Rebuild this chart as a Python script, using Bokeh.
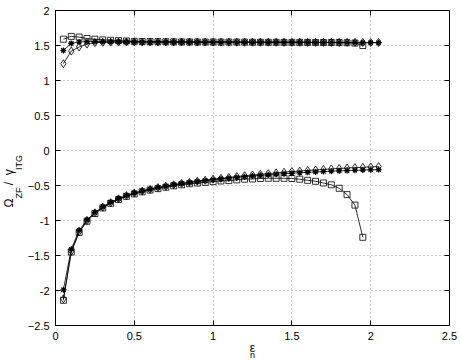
import numpy as np
from bokeh.plotting import figure
from bokeh.models import LinearAxis, Range1d, FixedTicker, CustomJSTickFormatter, Title
from bokeh.embed import file_html
from bokeh.resources import INLINE

# ---------------- data ----------------
x_sq = [round(0.05 * i, 2) for i in range(1, 40)]   # 0.05 .. 1.95
x_dm = [round(0.05 * i, 2) for i in range(1, 42)]   # 0.05 .. 2.05

up_sq = [1.59, 1.63, 1.62, 1.60, 1.59, 1.58, 1.575, 1.57, 1.565, 1.56,
         1.558, 1.556, 1.555, 1.554, 1.553, 1.552, 1.551, 1.55, 1.55, 1.55,
         1.549, 1.549, 1.548, 1.548, 1.547, 1.547, 1.546, 1.546, 1.545, 1.545,
         1.545, 1.544, 1.544, 1.543, 1.543, 1.542, 1.54, 1.535, 1.50]
up_st = [1.43, 1.53, 1.55, 1.555, 1.555, 1.554, 1.553, 1.553, 1.552, 1.552,
         1.551, 1.551, 1.55, 1.55, 1.55, 1.549, 1.549, 1.548, 1.548, 1.548,
         1.547, 1.547, 1.547, 1.546, 1.546, 1.546, 1.545, 1.545, 1.545, 1.544,
         1.544, 1.544, 1.543, 1.543, 1.543, 1.542, 1.542, 1.542, 1.541, 1.541, 1.54]
up_dm = [1.24, 1.42, 1.48, 1.52, 1.54, 1.545, 1.548, 1.55, 1.55, 1.55,
         1.55, 1.55, 1.55, 1.55, 1.55, 1.549, 1.549, 1.549, 1.549, 1.548,
         1.548, 1.548, 1.548, 1.547, 1.547, 1.547, 1.547, 1.546, 1.546, 1.546,
         1.546, 1.545, 1.545, 1.545, 1.545, 1.544, 1.544, 1.544, 1.544, 1.543, 1.543]

lo_sq = [-2.14, -1.45, -1.17, -1.01, -0.90, -0.82, -0.755, -0.70, -0.655, -0.62,
         -0.59, -0.565, -0.545, -0.525, -0.505, -0.49, -0.475, -0.465, -0.455, -0.445,
         -0.435, -0.43, -0.42, -0.41, -0.407, -0.40, -0.397, -0.397, -0.397, -0.40,
         -0.41, -0.426, -0.44, -0.464, -0.49, -0.54, -0.63, -0.78, -1.24]
lo_st = [-1.99, -1.41, -1.14, -0.99, -0.885, -0.805, -0.74, -0.688, -0.644, -0.607,
         -0.578, -0.553, -0.53, -0.51, -0.49, -0.472, -0.458, -0.444, -0.431, -0.418,
         -0.406, -0.395, -0.384, -0.374, -0.364, -0.355, -0.347, -0.339, -0.332, -0.325,
         -0.318, -0.312, -0.306, -0.301, -0.296, -0.291, -0.287, -0.283, -0.279, -0.276, -0.273]
lo_dm = [-2.12, -1.44, -1.16, -1.00, -0.89, -0.81, -0.745, -0.69, -0.645, -0.607,
         -0.58, -0.555, -0.53, -0.51, -0.49, -0.47, -0.455, -0.44, -0.425, -0.41,
         -0.398, -0.385, -0.372, -0.36, -0.35, -0.34, -0.33, -0.32, -0.31, -0.30,
         -0.295, -0.285, -0.278, -0.27, -0.263, -0.257, -0.25, -0.245, -0.24, -0.235, -0.23]

x_ticks = [0, 0.5, 1, 1.5, 2, 2.5]
y_ticks = [-2.5, -2, -1.5, -1, -0.5, 0, 0.5, 1, 1.5, 2]

# ---------------- figure ----------------
FONT = "Liberation Sans"
p = figure(output_backend="svg", toolbar_location=None,
           frame_width=394, frame_height=315,
           min_border_left=55, min_border_right=12, min_border_top=10, min_border_bottom=35,
           x_range=Range1d(0, 2.5), y_range=Range1d(-2.5, 2),
           background_fill_color="white", border_fill_color="white")
p.outline_line_color = "black"
p.outline_line_width = 1

for ax, ticks in ((p.xaxis[0], x_ticks), (p.yaxis[0], y_ticks)):
    ax.ticker = FixedTicker(ticks=ticks)
    ax.major_tick_in = 5
    ax.major_tick_out = 0
    ax.minor_tick_in = 0
    ax.minor_tick_out = 0
    ax.axis_line_color = "black"
    ax.major_tick_line_color = "black"
    ax.major_label_text_font = FONT
    ax.major_label_text_font_size = "11px"
    ax.major_label_text_color = "black"
    ax.major_label_standoff = 6

p.xaxis.major_label_overrides = {2.5: "2.5", 0: "0", 1: "1", 2: "2"}
p.yaxis.major_label_overrides = {2: "2", 1: "1", 0: "0", -1: "-1", -2: "-2"}

empty = CustomJSTickFormatter(code="return ''")
right = LinearAxis(ticker=FixedTicker(ticks=y_ticks), formatter=empty,
                   major_tick_in=5, major_tick_out=0, minor_tick_in=0, minor_tick_out=0,
                   major_label_standoff=0, major_label_text_font_size="1px")
top = LinearAxis(ticker=FixedTicker(ticks=x_ticks), formatter=empty,
                 major_tick_in=5, major_tick_out=0, minor_tick_in=0, minor_tick_out=0,
                 major_label_standoff=0, major_label_text_font_size="1px")
p.add_layout(right, "right")
p.add_layout(top, "above")

p.xgrid.ticker = FixedTicker(ticks=x_ticks)
p.ygrid.ticker = FixedTicker(ticks=y_ticks)
for g in (p.xgrid[0], p.ygrid[0]):
    g.grid_line_color = "#a0a0a0"
    g.grid_line_dash = "1 3"
    g.grid_line_width = 1

# ---------------- series ----------------
LW = 0.8
for xs, ys in ((x_sq, up_sq), (x_sq, lo_sq)):
    p.line(xs, ys, line_color="black", line_width=LW)
    p.scatter(xs, ys, marker="square", size=6, fill_color=None, line_color="black", line_width=0.8)
for xs, ys in ((x_dm, up_st), (x_dm, lo_st)):
    p.line(xs, ys, line_color="black", line_width=LW)
    p.scatter(xs, ys, marker="asterisk", size=6, line_color="black", line_width=1.2)
for xs, ys in ((x_dm, up_dm), (x_dm, lo_dm)):
    p.line(xs, ys, line_color="black", line_width=LW)
    p.scatter(xs, ys, marker="diamond", size=8, fill_color=None, line_color="black", line_width=0.8)

# ---------------- axis labels (composed from titles in side panels) ----------------
S = "\u00A0"

def title(text, side, size, align, offset, standoff):
    t = Title(text=text, align=align, offset=offset, text_font=FONT,
              text_font_size=size, text_font_style="normal", text_color="black")
    try:
        t.standoff = standoff
    except Exception:
        t.standoff = 0
    p.add_layout(t, side)

# y label: subscripts column (nearer the axis), then main column
title("ZF" + S * 7 + "ITG", "left", "9px", "left", 127, 1)
title("\u03A9" + S * 4 + "/" + S * 2 + "\u03B3", "left", "12px", "left", 118, -9)

# x label
title("\u03B5", "below", "12px", "center", -3, -8)
title("n", "below", "9px", "center", 2, -6)

open("out.html", "w").write(file_html(p, INLINE))
